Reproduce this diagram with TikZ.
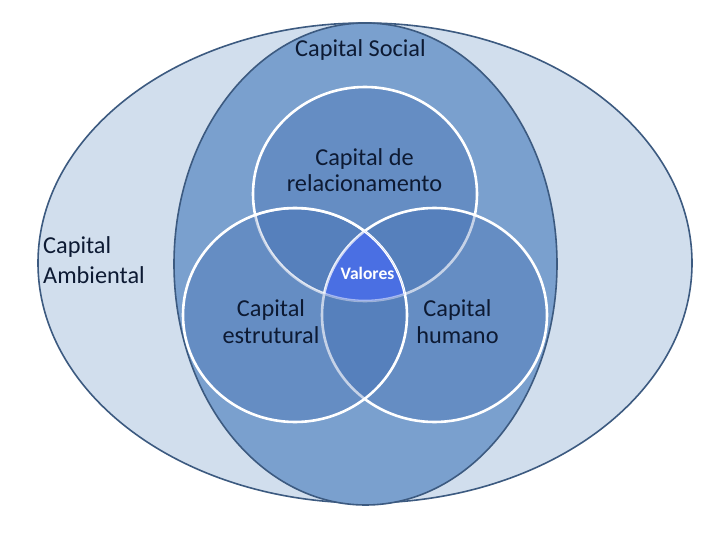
\documentclass[tikz,border=0pt]{standalone}
\usepackage{fontspec}
\setmainfont{Carlito}
\definecolor{outerfill}{HTML}{D1DEED}
\definecolor{innerfill}{HTML}{7AA0CE}
\definecolor{rimcol}{HTML}{3C5A80}
\definecolor{circfill}{RGB}{50,95,170}
\definecolor{valfill}{HTML}{4A6FE3}
\definecolor{txtcol}{HTML}{0D1A33}
\def\vTop{(365,194) ellipse [x radius=112, y radius=107]}
\def\vLeft{(295,315) ellipse [x radius=112, y radius=107]}
\def\vRight{(434.5,315) ellipse [x radius=112.5, y radius=107]}
\begin{document}
\begin{tikzpicture}[x=1bp,y=-1bp,
  rim/.style={draw=rimcol, line width=1.6bp},
  setcircle/.style={fill=circfill, fill opacity=0.28, draw=white, draw opacity=1, line width=2.6bp},
  lbl/.style={text=txtcol, font=\fontsize{24.4}{26}\selectfont, inner sep=0pt, align=center},
  vallbl/.style={text=white, font=\fontsize{17.6}{20}\selectfont\bfseries, inner sep=0pt}]
\useasboundingbox (0,0) rectangle (720,540);
\fill[white] (0,0) rectangle (720,540);
% Capital Ambiental and Capital Social
\path[fill=outerfill, rim] (365,263) ellipse [x radius=327, y radius=240];
\path[fill=innerfill, rim] (365.5,264) ellipse [x radius=191.5, y radius=241];
% three sets
\path[setcircle] \vTop;
\path[setcircle] \vRight;
\path[setcircle] \vLeft;
% Valores: intersection of the three sets
\begin{scope}
  \clip \vTop;
  \clip \vLeft;
  \fill[valfill] \vRight;
  \draw[white, line width=2.6bp, opacity=0.5] \vTop;
  \draw[white, line width=2.6bp, opacity=0.72] \vRight;
  \draw[white, line width=2.6bp] \vLeft;
\end{scope}
% labels
\node[lbl, anchor=base] (social) at (360.5,57) {Capital Social};
\node[lbl, anchor=west, align=left, font=\fontsize{24.4}{30}\selectfont] (ambiental) at (43,260) {Capital\\Ambiental};
\node[lbl] (relac) at (364.5,170) {Capital de\\relacionamento};
\node[lbl, font=\fontsize{24.4}{27}\selectfont] (estrut) at (271,321.5) {Capital\\estrutural};
\node[lbl, font=\fontsize{24.4}{27}\selectfont] (humano) at (457.5,321.5) {Capital\\humano};
\node[vallbl, anchor=base] (valores) at (367.5,280) {Valores};
\end{tikzpicture}
\end{document}
